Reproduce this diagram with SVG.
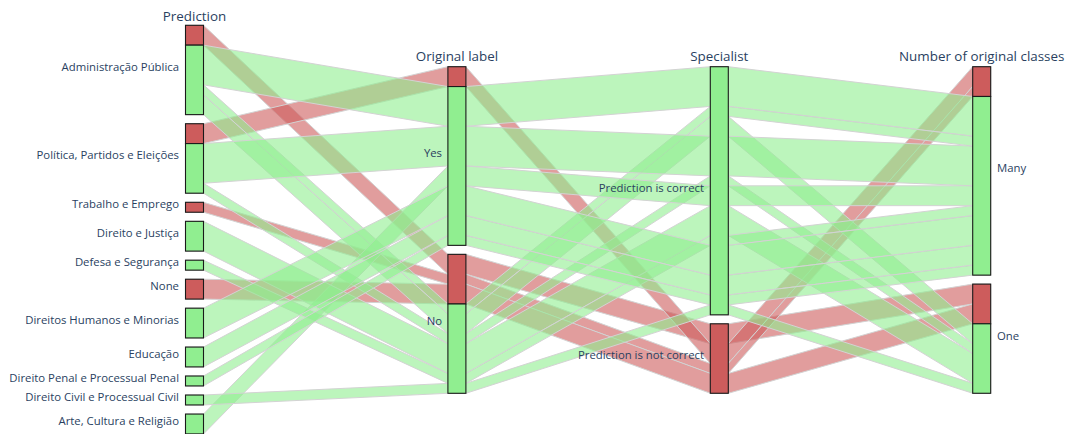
<svg xmlns="http://www.w3.org/2000/svg" width="1067" height="434" viewBox="0 0 1067 434">
<style>
.r{fill:#cd5c5c;fill-opacity:0.6;stroke:#d3d3d3;stroke-width:1}
.g{fill:#90ee90;fill-opacity:0.6;stroke:#d3d3d3;stroke-width:1}
.br{fill:#cd5c5c;stroke:#1a1a1a;stroke-width:1.1}
.bg{fill:#90ee90;stroke:#1a1a1a;stroke-width:1.1}
text{font-family:"Open Sans","Liberation Sans",sans-serif;fill:#2a3f5f}
.tk{font-size:11.35px}
.tl{font-size:13.4px;text-anchor:middle}
.e{text-anchor:end}
</style>
<rect width="1067" height="434" fill="#fff"/>
<g id="connectors">
<polygon class="r" points="185.5,25.3 203.5,25.3 447.9,254.35 465.9,254.35 710.3,323.8 728.3,323.8 972.7,284.1 990.7,284.1 990.7,303.95 972.7,303.95 728.3,343.65 710.3,343.65 465.9,274.2 447.9,274.2 203.5,45.15 185.5,45.15"/>
<polygon class="r" points="185.5,123.73 203.5,123.73 447.9,66.7 465.9,66.7 710.3,343.65 728.3,343.65 972.7,66.7 990.7,66.7 990.7,86.55 972.7,86.55 728.3,363.5 710.3,363.5 465.9,86.55 447.9,86.55 203.5,143.58 185.5,143.58"/>
<polygon class="r" points="185.5,202.3 203.5,202.3 447.9,274.2 465.9,274.2 710.3,363.5 728.3,363.5 972.7,86.55 990.7,86.55 990.7,96.48 972.7,96.48 728.3,373.43 710.3,373.43 465.9,284.13 447.9,284.13 203.5,212.23 185.5,212.23"/>
<polygon class="r" points="185.5,279.23 203.5,279.23 447.9,284.13 465.9,284.13 710.3,373.43 728.3,373.43 972.7,303.95 990.7,303.95 990.7,323.8 972.7,323.8 728.3,393.28 710.3,393.28 465.9,303.98 447.9,303.98 203.5,299.08 185.5,299.08"/>
<polygon class="g" points="185.5,45.15 203.5,45.15 447.9,86.55 465.9,86.55 710.3,66.7 728.3,66.7 972.7,96.48 990.7,96.48 990.7,136.18 972.7,136.18 728.3,106.4 710.3,106.4 465.9,126.25 447.9,126.25 203.5,84.85 185.5,84.85"/>
<polygon class="g" points="185.5,84.85 203.5,84.85 447.9,303.98 465.9,303.98 710.3,106.4 728.3,106.4 972.7,136.18 990.7,136.18 990.7,146.1 972.7,146.1 728.3,116.33 710.3,116.33 465.9,313.9 447.9,313.9 203.5,94.78 185.5,94.78"/>
<polygon class="g" points="185.5,94.78 203.5,94.78 447.9,313.9 465.9,313.9 710.3,116.33 728.3,116.33 972.7,323.8 990.7,323.8 990.7,343.65 972.7,343.65 728.3,136.18 710.3,136.18 465.9,333.75 447.9,333.75 203.5,114.63 185.5,114.63"/>
<polygon class="g" points="185.5,143.58 203.5,143.58 447.9,126.25 465.9,126.25 710.3,136.18 728.3,136.18 972.7,146.1 990.7,146.1 990.7,185.8 972.7,185.8 728.3,175.88 710.3,175.88 465.9,165.95 447.9,165.95 203.5,183.28 185.5,183.28"/>
<polygon class="g" points="185.5,183.28 203.5,183.28 447.9,333.75 465.9,333.75 710.3,175.88 728.3,175.88 972.7,343.65 990.7,343.65 990.7,353.58 972.7,353.58 728.3,185.8 710.3,185.8 465.9,343.68 447.9,343.68 203.5,193.2 185.5,193.2"/>
<polygon class="g" points="185.5,414.06 203.5,414.06 447.9,165.95 465.9,165.95 710.3,185.8 728.3,185.8 972.7,185.8 990.7,185.8 990.7,205.65 972.7,205.65 728.3,205.65 710.3,205.65 465.9,185.8 447.9,185.8 203.5,433.91 185.5,433.91"/>
<polygon class="g" points="185.5,221.33 203.5,221.33 447.9,343.68 465.9,343.68 710.3,205.65 728.3,205.65 972.7,353.58 990.7,353.58 990.7,383.35 972.7,383.35 728.3,235.43 710.3,235.43 465.9,373.45 447.9,373.45 203.5,251.1 185.5,251.1"/>
<polygon class="g" points="185.5,260.2 203.5,260.2 447.9,373.45 465.9,373.45 710.3,235.43 728.3,235.43 972.7,205.65 990.7,205.65 990.7,215.58 972.7,215.58 728.3,245.35 710.3,245.35 465.9,383.38 447.9,383.38 203.5,270.13 185.5,270.13"/>
<polygon class="g" points="185.5,308.18 203.5,308.18 447.9,185.8 465.9,185.8 710.3,245.35 728.3,245.35 972.7,215.58 990.7,215.58 990.7,245.35 972.7,245.35 728.3,275.13 710.3,275.13 465.9,215.58 447.9,215.58 203.5,337.96 185.5,337.96"/>
<polygon class="g" points="185.5,347.06 203.5,347.06 447.9,215.58 465.9,215.58 710.3,275.13 728.3,275.13 972.7,245.35 990.7,245.35 990.7,265.2 972.7,265.2 728.3,294.98 710.3,294.98 465.9,235.43 447.9,235.43 203.5,366.91 185.5,366.91"/>
<polygon class="g" points="185.5,376.01 203.5,376.01 447.9,235.43 465.9,235.43 710.3,294.98 728.3,294.98 972.7,265.2 990.7,265.2 990.7,275.13 972.7,275.13 728.3,304.9 710.3,304.9 465.9,245.35 447.9,245.35 203.5,385.93 185.5,385.93"/>
<polygon class="g" points="185.5,395.03 203.5,395.03 447.9,383.38 465.9,383.38 710.3,304.9 728.3,304.9 972.7,383.35 990.7,383.35 990.7,393.28 972.7,393.28 728.3,314.83 710.3,314.83 465.9,393.3 447.9,393.3 203.5,404.96 185.5,404.96"/>
</g>
<g id="dim-prediction">
<text class="tl" x="194.5" y="20.7">Prediction</text>
<g id="pred-admin"><rect class="br" x="185.5" y="25.3" width="18" height="19.85"/><rect class="bg" x="185.5" y="45.15" width="18" height="69.48"/><text class="tk e" x="179" y="70.8">Administração Pública</text></g>
<g id="pred-politica"><rect class="br" x="185.5" y="123.73" width="18" height="19.85"/><rect class="bg" x="185.5" y="143.58" width="18" height="49.62"/><text class="tk e" x="179" y="159.3">Política, Partidos e Eleições</text></g>
<g id="pred-trabalho"><rect class="br" x="185.5" y="202.3" width="18" height="9.93"/><text class="tk e" x="179" y="208.1">Trabalho e Emprego</text></g>
<g id="pred-direito-justica"><rect class="bg" x="185.5" y="221.33" width="18" height="29.78"/><text class="tk e" x="179" y="237">Direito e Justiça</text></g>
<g id="pred-defesa"><rect class="bg" x="185.5" y="260.2" width="18" height="9.93"/><text class="tk e" x="179" y="266">Defesa e Segurança</text></g>
<g id="pred-none"><rect class="br" x="185.5" y="279.23" width="18" height="19.85"/><text class="tk e" x="179" y="290">None</text></g>
<g id="pred-direitos-humanos"><rect class="bg" x="185.5" y="308.18" width="18" height="29.78"/><text class="tk e" x="179" y="323.9">Direitos Humanos e Minorias</text></g>
<g id="pred-educacao"><rect class="bg" x="185.5" y="347.06" width="18" height="19.85"/><text class="tk e" x="179" y="357.6">Educação</text></g>
<g id="pred-penal"><rect class="bg" x="185.5" y="376.01" width="18" height="9.93"/><text class="tk e" x="179" y="381.8">Direito Penal e Processual Penal</text></g>
<g id="pred-civil"><rect class="bg" x="185.5" y="395.03" width="18" height="9.93"/><text class="tk e" x="179" y="400.8">Direito Civil e Processual Civil</text></g>
<g id="pred-arte"><rect class="bg" x="185.5" y="414.06" width="18" height="19.85"/><text class="tk e" x="179" y="424.6">Arte, Cultura e Religião</text></g>
</g>
<g id="dim-original-label">
<text class="tl" x="456.9" y="60.7">Original label</text>
<g id="orig-yes"><rect class="br" x="447.9" y="66.7" width="18" height="19.85"/><rect class="bg" x="447.9" y="86.55" width="18" height="158.8"/><text class="tk e" x="442" y="156.7">Yes</text></g>
<g id="orig-no"><rect class="br" x="447.9" y="254.35" width="18" height="49.63"/><rect class="bg" x="447.9" y="303.98" width="18" height="89.32"/><text class="tk e" x="442" y="324.5">No</text></g>
</g>
<g id="dim-specialist">
<text class="tl" x="719.3" y="60.7">Specialist</text>
<g id="spec-correct"><rect class="bg" x="710.3" y="66.7" width="18" height="248.13"/><text class="tk e" x="704" y="191.6">Prediction is correct</text></g>
<g id="spec-not-correct"><rect class="br" x="710.3" y="323.8" width="18" height="69.48"/><text class="tk e" x="704" y="359.3">Prediction is not correct</text></g>
</g>
<g id="dim-number">
<text class="tl" x="981.7" y="60.7">Number of original classes</text>
<g id="num-many"><rect class="br" x="972.7" y="66.7" width="18" height="29.78"/><rect class="bg" x="972.7" y="96.48" width="18" height="178.65"/><text class="tk" x="997" y="171.7">Many</text></g>
<g id="num-one"><rect class="br" x="972.7" y="284.1" width="18" height="39.7"/><rect class="bg" x="972.7" y="323.8" width="18" height="69.48"/><text class="tk" x="997" y="339.5">One</text></g>
</g>
</svg>
